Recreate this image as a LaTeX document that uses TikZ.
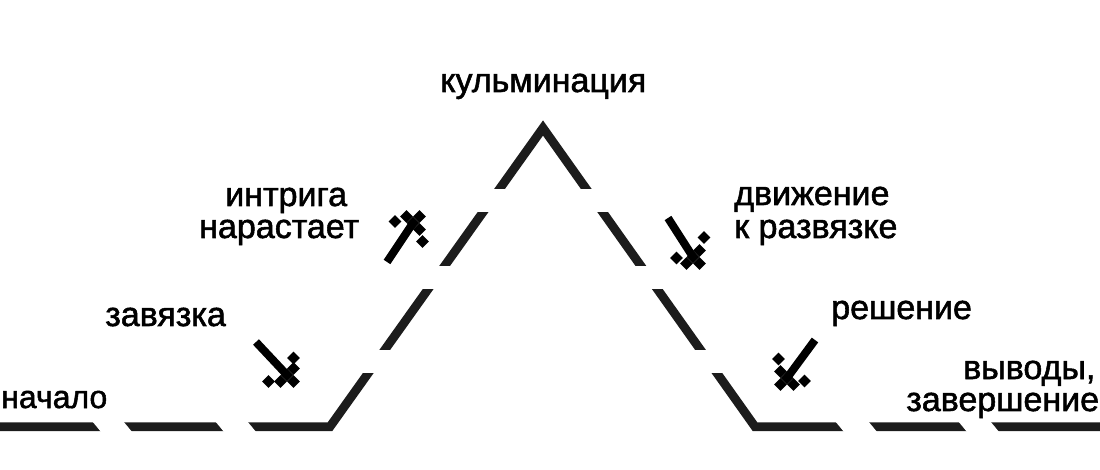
\documentclass[tikz,border=0pt]{standalone}
\usepackage{fontspec}
\setmainfont{Liberation Sans}[FakeBold=1.6]
\usetikzlibrary{positioning}
\definecolor{plotline}{HTML}{1C1C1C}
\tikzset{
x=0.75pt, y=-0.75pt, % one unit is one pixel of the reference
label text/.style={anchor=base west, inner sep=0pt, font=\fontsize{25.5}{30}\selectfont, text=black},
plot line/.style={draw=plotline, line width=6.6pt, line join=miter, miter limit=10},
gap/.style={fill=white, draw=none},
}
\newcommand{\pixdot}[2]{\fill (#1-6.3,#2) -- (#1,#2-6.3) -- (#1+6.3,#2) -- (#1,#2+6.3) -- cycle;}

\begin{document}
\begin{tikzpicture}
        \useasboundingbox (0,0) rectangle (1100,470);

        \coordinate (start) at (-10,426.7);
        \coordinate (riseBase) at (330,426.7);
        \coordinate (peak) at (543,128);
        \coordinate (fallBase) at (755,426.7);
        \coordinate (end) at (1110,426.7);

        \draw[plot line] (start) -- (riseBase) -- (peak) -- (fallBase) -- (end);

        % white cuts over the line
        \foreach \xa/\xb in {92/123, 215/247, 835/868, 958/990}
          \fill[gap] (\xa,421) -- (\xa+9.5,432.5) -- (\xb+9.5,432.5) -- (\xb,421) -- cycle;
        \fill[gap] (470,189) rectangle (620,212);
        \foreach \ya/\yb in {266/289, 350.5/372.7}
          {\fill[gap] (360,\ya) rectangle (480,\yb);
           \fill[gap] (610,\ya) rectangle (730,\yb);}

        % daggers: hilt centre, blade end, two dots, tip direction
        \foreach \cx/\cy/\bx/\by/\ax/\ay/\dx/\dy/\sx/\sy in {
            413/223/387/262/395/221.5/422.5/241.5/1/-1,
            287/375/256/342/293.5/358/268.5/381.5/1/1,
            693/257/668/218/704/237.5/676.5/258/1/1,
            787/378/815/340/778.5/359/804.5/381/-1/1}
        {
          \coordinate (hilt) at (\cx,\cy);
          \coordinate (blade) at (\bx,\by);
          \draw[line width=6pt] (blade) -- (hilt);
          \pixdot{\cx}{\cy}
          \pixdot{\cx+6.5*\sx}{\cy+6.5*\sy}
          \pixdot{\cx+6.5*\sy}{\cy-6.5*\sx}
          \pixdot{\cx-6.5*\sy}{\cy+6.5*\sx}
          \pixdot{\ax}{\ay}
          \pixdot{\dx}{\dy}
        }

        \node[label text] (climax) at (440,92) {кульминация};
        \node[label text] (rising1) at (225,206) {интрига};
        \node[label text] (rising2) at (199,238) {нарастает};
        \node[label text] (setup) at (105,326) {завязка};
        \node[label text, font=\fontsize{24}{30}\selectfont] (opening) at (1,408) {начало};
        \node[label text] (falling1) at (734,205) {движение};
        \node[label text] (falling2) at (734,238) {к развязке};
        \node[label text] (solution) at (831,319) {решение};
        \node[label text] (closing1) at (963,379) {выводы,};
        \node[label text] (closing2) at (906,411) {завершение};
      \end{tikzpicture}
\end{document}
